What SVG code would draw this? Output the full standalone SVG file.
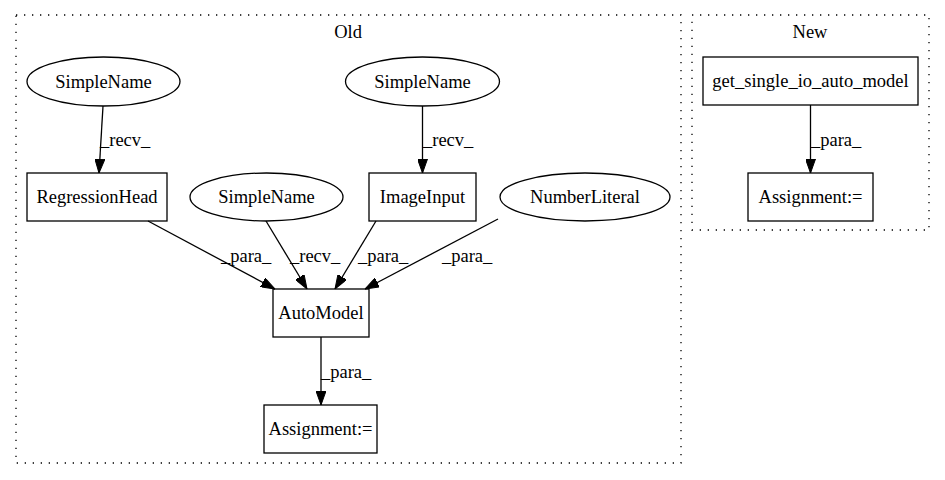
<svg xmlns="http://www.w3.org/2000/svg" width="945" height="480" viewBox="0 0 945 480">
<defs>
<marker id="arr" viewBox="0 0 14 10" refX="14" refY="5" markerWidth="14" markerHeight="10" markerUnits="userSpaceOnUse" orient="auto">
<path d="M0,0 L14,5 L0,10 z" fill="#000" stroke="#000" stroke-width="1"/>
</marker>
</defs>
<style>
text{font-family:"Liberation Serif","Times New Roman",serif;font-size:18.5px;fill:#000}
.n{text-anchor:middle}
.shape{fill:none;stroke:#000;stroke-width:1.3}
.cl{fill:none;stroke:#000;stroke-width:1.3;stroke-dasharray:1.3,6.7}
.e{fill:none;stroke:#000;stroke-width:1.3;marker-end:url(#arr)}
</style>
<rect width="945" height="480" fill="#fff"/>
<g id="cluster_old">
<rect class="cl" x="16" y="15" width="665" height="448"/>
<text class="n" x="348" y="38">Old</text>
</g>
<g id="cluster_new">
<rect class="cl" x="692" y="15" width="237" height="215"/>
<text class="n" x="810" y="38">New</text>
</g>
<g id="edges">
<line class="e" x1="103" y1="106" x2="99" y2="173"/>
<text x="100" y="146">_recv_</text>
<line class="e" x1="422.5" y1="106" x2="422.5" y2="173"/>
<text x="423" y="146">_recv_</text>
<line class="e" x1="148" y1="221" x2="275" y2="289"/>
<text x="221" y="262">_para_</text>
<line class="e" x1="266" y1="221" x2="307" y2="289"/>
<text x="290" y="262">_recv_</text>
<line class="e" x1="376" y1="221" x2="335" y2="289"/>
<text x="358" y="262">_para_</text>
<line class="e" x1="498" y1="219" x2="365" y2="289"/>
<text x="442" y="262">_para_</text>
<line class="e" x1="321" y1="337" x2="321" y2="405"/>
<text x="321" y="378">_para_</text>
<line class="e" x1="810.5" y1="105" x2="810.5" y2="173"/>
<text x="811" y="146">_para_</text>
</g>
<g id="sn1">
<ellipse class="shape" cx="103.5" cy="81.5" rx="76.5" ry="24.5"/>
<text class="n" x="103.5" y="88">SimpleName</text>
</g>
<g id="sn2">
<ellipse class="shape" cx="422.5" cy="81.5" rx="77" ry="24.5"/>
<text class="n" x="422.5" y="88">SimpleName</text>
</g>
<g id="regressionhead">
<rect class="shape" x="27" y="173" width="140" height="48"/>
<text class="n" x="97" y="203">RegressionHead</text>
</g>
<g id="sn3">
<ellipse class="shape" cx="266.5" cy="197" rx="76.5" ry="24"/>
<text class="n" x="266.5" y="203">SimpleName</text>
</g>
<g id="imageinput">
<rect class="shape" x="369" y="173" width="107" height="48"/>
<text class="n" x="422.5" y="203">ImageInput</text>
</g>
<g id="numberliteral">
<ellipse class="shape" cx="585" cy="197" rx="85" ry="24"/>
<text class="n" x="585" y="203">NumberLiteral</text>
</g>
<g id="automodel">
<rect class="shape" x="273" y="289" width="96" height="48"/>
<text class="n" x="321" y="319">AutoModel</text>
</g>
<g id="assign_old">
<rect class="shape" x="264" y="405" width="113" height="48"/>
<text class="n" x="320.5" y="435">Assignment:=</text>
</g>
<g id="get_single">
<rect class="shape" x="703" y="57" width="215" height="48"/>
<text class="n" x="810.5" y="87">get_single_io_auto_model</text>
</g>
<g id="assign_new">
<rect class="shape" x="748" y="173" width="125" height="48"/>
<text class="n" x="810.5" y="203">Assignment:=</text>
</g>
</svg>
